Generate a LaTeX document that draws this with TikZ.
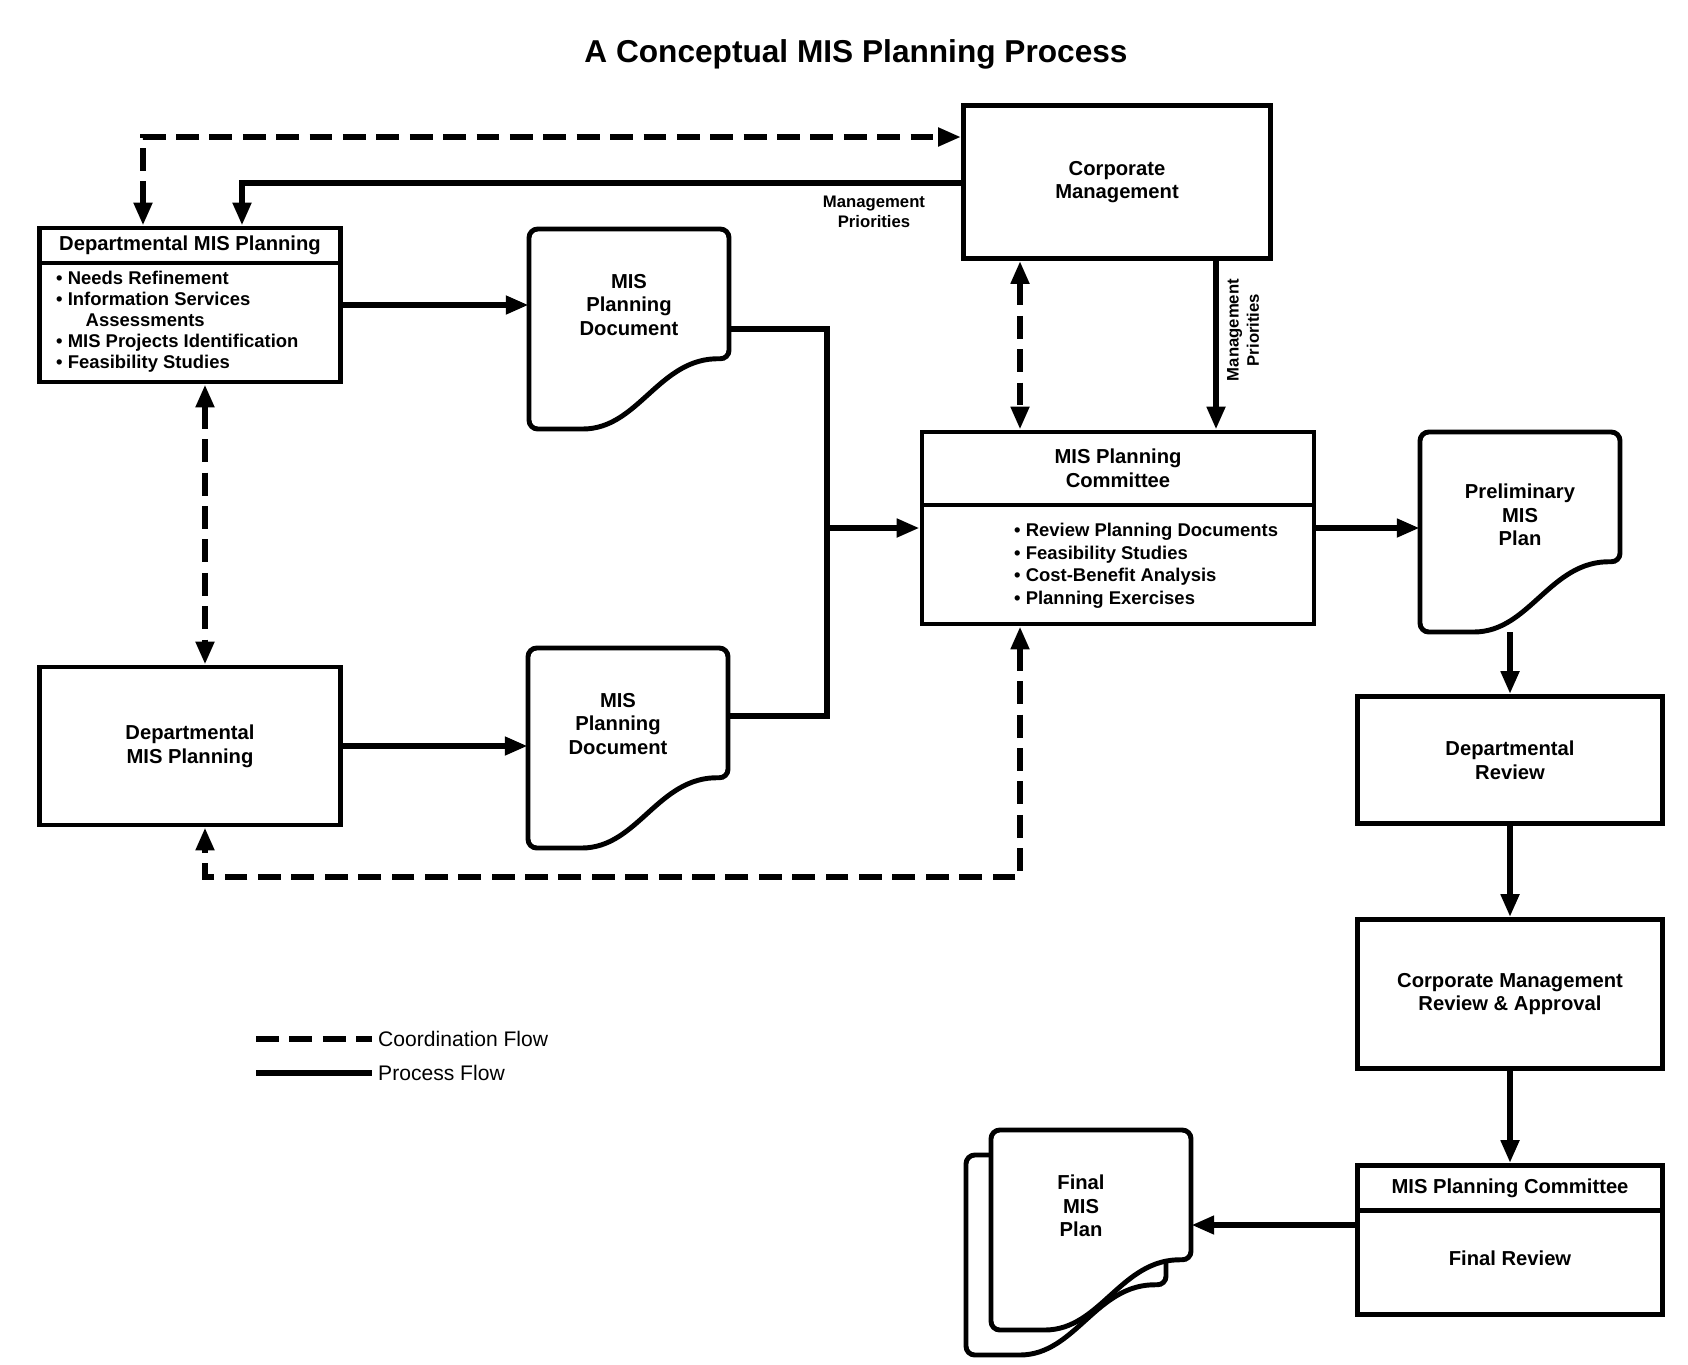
\documentclass[tikz,border=0pt]{standalone}
\usepackage{fontspec}
\setmainfont{Liberation Sans}
\usetikzlibrary{arrows.meta, positioning, calc}

\tikzset{
  boxed/.style={draw, line width=2.8pt, fill=white},
  procflow/.style={line width=3.6pt},
  coordflow/.style={line width=3.6pt, dash pattern=on 13pt off 6pt},
  lbl/.style={font=\fontsize{11.5}{13.5}\selectfont\bfseries, align=center},
  blt/.style={font=\fontsize{10.5}{12}\selectfont\bfseries, align=left},
  prio/.style={font=\fontsize{9.5}{11.5}\selectfont\bfseries, align=center},
  legtext/.style={font=\fontsize{12}{14}\selectfont, anchor=west},
  docnode/.style={minimum width=40mm, minimum height=40mm, inner sep=0pt}
}

% outline of a document sheet round a docnode
\newcommand{\docoutline}[1]{%
  \draw[boxed, rounded corners=5pt] ([shift={(-100,-100)}]#1.center) -- ([shift={(100,-100)}]#1.center)
    -- ([shift={(100,30)}]#1.center) .. controls ([shift={(30,28)}]#1.center) and ([shift={(10,100)}]#1.center) .. ([shift={(-55,100)}]#1.center)
    -- ([shift={(-100,100)}]#1.center) -- cycle;}

\begin{document}
\begin{tikzpicture}[x=0.2mm, y=-0.2mm, >={Triangle[length=13pt,width=10pt]}]
  \path[fill=white, use as bounding box] (0,0) rectangle (1688,1364);

  % title
  \node[font=\fontsize{18}{22}\selectfont\bfseries] (title) at (856,54) {A Conceptual MIS Planning Process};

  % departmental planning
  \node[boxed, minimum width=60.2mm, minimum height=30.8mm] (dmp) at (190,305) {};
  \node[boxed, lbl, minimum width=60.2mm, minimum height=7mm, anchor=north] (dmphead) at (dmp.north) {Departmental MIS Planning};
  \node[blt, anchor=west] (dmplist) at (50,322) {\textbullet\ Needs Refinement\\
    \textbullet\ Information Services\\
    \hspace*{1.6em}Assessments\\
    \textbullet\ MIS Projects Identification\\
    \textbullet\ Feasibility Studies};
  \node[boxed, lbl, minimum width=60.2mm, minimum height=31.6mm] (dmp2) at (190,746) {Departmental\\MIS Planning};

  % planning documents
  \node[docnode] (doc1) at (629,329) {};
  \docoutline{doc1}
  \node[lbl] (doc1txt) at ([shift={(0,-24)}]doc1.center) {MIS\\Planning\\Document};
  \node[docnode] (doc2) at (628,748) {};
  \docoutline{doc2}
  \node[lbl] (doc2txt) at ([shift={(-10,-24)}]doc2.center) {MIS\\Planning\\Document};

  % corporate management
  \node[boxed, lbl, minimum width=61.4mm, minimum height=30.6mm] (cm) at (1117,182) {Corporate\\Management};

  % planning committee
  \node[boxed, minimum width=78.4mm, minimum height=38.4mm] (mpc) at (1118,528) {};
  \node[boxed, lbl, minimum width=78.4mm, minimum height=14.6mm, anchor=north] (mpchead) at (mpc.north) {MIS Planning\\Committee};
  \node[blt, anchor=west, font=\fontsize{10.5}{12.8}\selectfont\bfseries] (mpclist) at (1008,566) {\textbullet\ Review Planning Documents\\
    \textbullet\ Feasibility Studies\\
    \textbullet\ Cost-Benefit Analysis\\
    \textbullet\ Planning Exercises};

  % preliminary plan
  \node[docnode] (prel) at (1520,532) {};
  \docoutline{prel}
  \node[lbl] (preltxt) at ([shift={(0,-17)}]prel.center) {Preliminary\\MIS\\Plan};

  % review chain
  \node[boxed, lbl, minimum width=61mm, minimum height=25.4mm] (drev) at (1510,760) {Departmental\\Review};
  \node[boxed, lbl, minimum width=61mm, minimum height=29.8mm] (cmr) at (1510,994) {Corporate Management\\Review \& Approval};
  \node[boxed, minimum width=61mm, minimum height=29.8mm] (fmc) at (1510,1240) {};
  \node[boxed, lbl, minimum width=61mm, minimum height=9mm, anchor=north] (fmchead) at (fmc.north) {MIS Planning Committee};
  \node[lbl] (fmctxt) at (1510,1258) {Final Review};

  % final plan
  \node[docnode] (finback) at (1066,1255) {};
  \docoutline{finback}
  \node[docnode] (fin) at (1091,1230) {};
  \docoutline{fin}
  \node[lbl] (fintxt) at ([shift={(-10,-24)}]fin.center) {Final\\MIS\\Plan};

  % process flow
  \draw[procflow,->] (dmp.east) -- (dmp.east -| doc1.west);
  \draw[procflow,->] (dmp2.east) -- (dmp2.east -| doc2.west);
  \coordinate (join) at (827,528);
  \draw[procflow] (doc1.east) -| (join);
  \draw[procflow] ([shift={(0,-32)}]doc2.east) -| (join);
  \draw[procflow,->] (join) -- (mpc.west);
  \draw[procflow,->] (mpc.east) -- (mpc.east -| prel.west);
  \draw[procflow,->] (drev.north |- prel.south) -- (drev.north);
  \draw[procflow,->] (drev.south) -- (cmr.north);
  \draw[procflow,->] (cmr.south) -- (fmc.north);
  \draw[procflow,->] ([shift={(0,-15)}]fmc.west) -- ([shift={(0,-15)}]fmc.west -| fin.east);

  % management priorities
  \coordinate (priotop) at (242,183);
  \draw[procflow,->] (cm.west |- priotop) -- (priotop) -- (priotop |- dmp.north);
  \node[prio] (priolbl) at (874,212) {Management\\Priorities};
  \coordinate (priodown) at (1216,350);
  \draw[procflow,->] (cm.south -| priodown) -- (mpc.north -| priodown);
  \node[prio, rotate=90] (priolbl2) at (1243,330) {Management\\Priorities};

  % coordination flow
  \coordinate (ctop) at (143,137);
  \draw[coordflow,<->] (dmp.north -| ctop) -- (ctop) -- (ctop -| cm.west);
  \coordinate (cbot) at (1020,877);
  \draw[coordflow,<->] (cm.south -| cbot) -- (mpc.north -| cbot);
  \draw[coordflow,<->] (mpc.south -| cbot) -- (cbot) -| ([xshift=3mm]dmp2.south);
  \draw[coordflow,<->] ([xshift=3mm]dmp.south) -- ([xshift=3mm]dmp2.north);

  % legend
  \node[legtext] (legc) at (372,1039) {Coordination Flow};
  \node[legtext] (legp) at (372,1073) {Process Flow};
  \coordinate (legcs) at (256,1039);
  \coordinate (legps) at (256,1073);
  \draw[coordflow] (legcs) -- (legc.west);
  \draw[procflow] (legps) -- (legp.west);
\end{tikzpicture}
\end{document}
